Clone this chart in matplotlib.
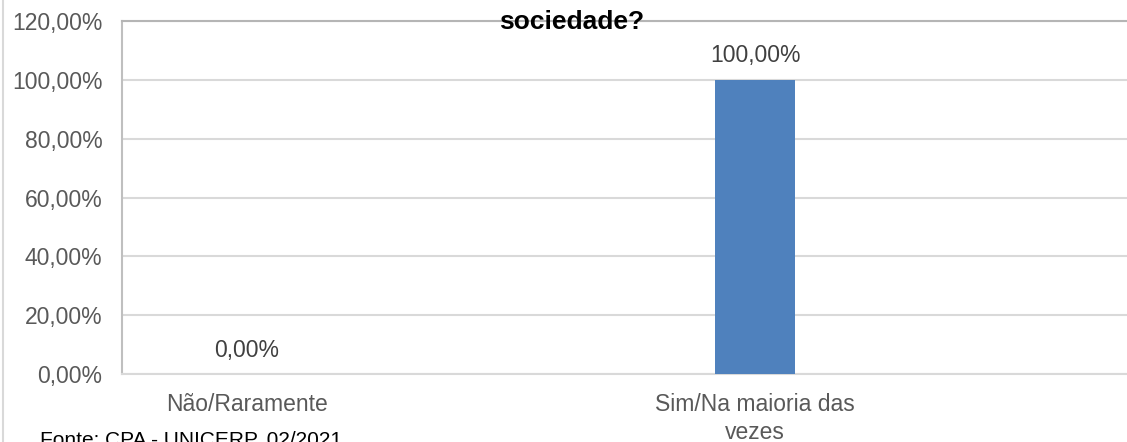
import matplotlib.pyplot as plt
from matplotlib.lines import Line2D
from matplotlib.ticker import FuncFormatter

plt.rcParams['font.family'] = ['Liberation Sans', 'DejaVu Sans']

categorias = ['Não/Raramente', 'Sim/Na maioria das\nvezes']
valores = [0.0, 1.0]
titulo = 'sociedade?'
fonte = 'Fonte: CPA - UNICERP, 02/2021'

W, H = 1127, 442
fig = plt.figure(figsize=(W / 100, H / 100), dpi=100)

# plot area in pixels: left 122, top 21, bottom 374, runs off the right edge
ax = fig.add_axes([122 / W, (H - 374) / H, (W - 122) / W, (374 - 21) / H])

x = list(range(len(categorias)))
ax.bar(x, valores, width=0.157, color='#4F81BD', zorder=3)

ax.set_xlim(-0.246, 1.732)
ax.set_ylim(0, 1.2)
ax.set_yticks([0, 0.2, 0.4, 0.6, 0.8, 1.0, 1.2])
ax.yaxis.set_major_formatter(FuncFormatter(lambda v, p: f'{v * 100:.2f}%'.replace('.', ',')))
ax.set_xticks(x)
ax.set_xticklabels(categorias, linespacing=1.25)

ax.tick_params(axis='y', length=0, pad=14, labelsize=16.5, labelcolor='#595959')
ax.tick_params(axis='x', length=0, pad=14, labelsize=16.5, labelcolor='#595959')

ax.grid(axis='y', color='#D9D9D9', linewidth=1.5, zorder=0)
ax.set_axisbelow(True)

ax.spines['right'].set_visible(False)
ax.spines['left'].set_color('#BFBFBF')
ax.spines['top'].set_color('#B5B5B5')
ax.spines['bottom'].set_color('#D9D9D9')
for s in ['left', 'top', 'bottom']:
    ax.spines[s].set_linewidth(1.5)

# data labels
for xi, v in zip(x, valores):
    ax.annotate(f'{v * 100:.2f}%'.replace('.', ','), (xi, v), xytext=(0, 9),
                textcoords='offset points', ha='center', va='bottom',
                fontsize=16.5, color='#404040')

# title (first line is cut off in the source)
fig.text(572 / W, 1 - 29 / H, titulo, ha='center', va='baseline',
         fontsize=19, fontweight='bold', color='black')

# footer, partly cut at the bottom
fig.text(40 / W, 1 - 431 / H, fonte, ha='left', va='top', fontsize=15, color='black')

# chart area border on the left
fig.add_artist(Line2D([3 / W, 3 / W], [0, 1], color='#D9D9D9', linewidth=1.5,
                      transform=fig.transFigure))

fig.savefig('out.png', dpi=100, facecolor='white')
